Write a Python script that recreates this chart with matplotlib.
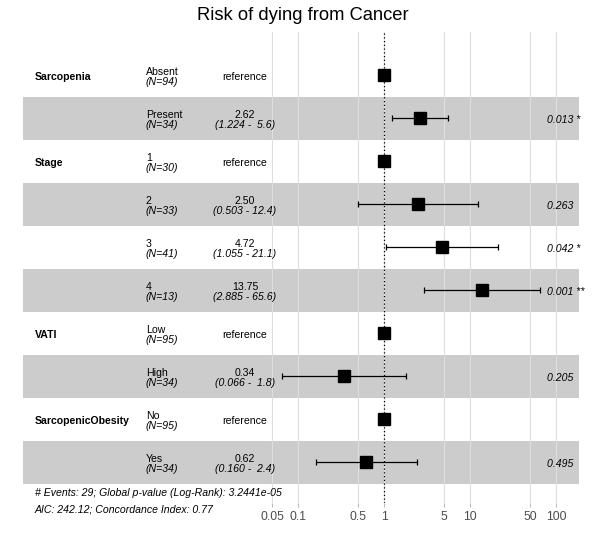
import numpy as np
import matplotlib
matplotlib.use("Agg")
import matplotlib.pyplot as plt
from matplotlib.transforms import blended_transform_factory

plt.rcParams['font.family'] = ['Liberation Sans', 'DejaVu Sans']

# forest plot data (Cox model, hazard ratios)
variables = ["Sarcopenia", "", "Stage", "", "", "", "VATI", "", "SarcopenicObesity", ""]
levels = ["Absent", "Present", "1", "2", "3", "4", "Low", "High", "No", "Yes"]
n_obs = [94, 34, 30, 33, 41, 13, 95, 34, 95, 34]
hr = [1, 2.62, 1, 2.50, 4.72, 13.75, 1, 0.34, 1, 0.62]
ci_low = [np.nan, 1.224, np.nan, 0.503, 1.055, 2.885, np.nan, 0.066, np.nan, 0.160]
ci_high = [np.nan, 5.6, np.nan, 12.4, 21.1, 65.6, np.nan, 1.8, np.nan, 2.4]
p_values = [np.nan, 0.013, np.nan, 0.263, 0.042, 0.001, np.nan, 0.205, np.nan, 0.495]
is_ref = [True, False, True, False, False, False, True, False, True, False]

x_ticks = [0.05, 0.1, 0.5, 1, 5, 10, 50, 100]
x_ticklabels = ["0.05", "0.1", "0.5", "1", "5", "10", "50", "100"]

title = "Risk of dying from Cancer"
footer1 = "# Events: 29; Global p-value (Log-Rank): 3.2441e-05"
footer2 = "AIC: 242.12; Concordance Index: 0.77"

W, H = 600, 550
fig = plt.figure(figsize=(W / 100, H / 100), dpi=100)
ax = fig.add_axes([0, (H - 503) / H, 1, (503 - 32) / H])

# x: log scale, 86 px per decade, 1 at px 384
ax.set_xscale('log')
ax.set_xlim(10 ** (-384 / 86), 10 ** ((W - 384) / 86))
# y: rows 1..10, 43 px apart, row 1 at px 75
ax.set_ylim(10 + (503 - 462) / 43, 1 - (75 - 32) / 43)

rows = np.arange(1, len(levels) + 1)
hr = np.array(hr)
lo = np.array(ci_low)
hi = np.array(ci_high)

ax.set_xticks(x_ticks)
ax.set_xticklabels(x_ticklabels)
ax.xaxis.set_minor_locator(matplotlib.ticker.NullLocator())
ax.set_yticks([])
ax.grid(axis='x', color='#DEDEDE', linewidth=0.8, zorder=0)
ax.tick_params(axis='x', length=3, width=0.8, color='#BBBBBB',
               labelsize=8.8, labelcolor='#4D4D4D', pad=3)
for s in ax.spines.values():
    s.set_visible(False)

# striped background
for r in rows:
    if r % 2 == 0:
        ax.axhspan(r - 0.5, r + 0.5, xmin=23 / W, xmax=579 / W,
                   color='black', alpha=0.2, lw=0, zorder=1)

ax.axvline(1, color='black', linestyle=(0, (1, 2)), linewidth=0.9, zorder=2)

m = ~np.isnan(lo)
ax.errorbar(hr[m], rows[m], xerr=[hr[m] - lo[m], hi[m] - hr[m]], fmt='none',
            ecolor='black', elinewidth=0.9, capsize=2.3, capthick=0.9, zorder=3)
ax.plot(hr, rows, 's', color='black', markersize=8.6, zorder=4)

tr = blended_transform_factory(fig.transFigure, ax.transData)
fs = 7.6
for i, r in enumerate(rows):
    if variables[i]:
        ax.text(35 / W, r + 0.04, variables[i], transform=tr, fontsize=fs,
                fontweight='bold', ha='left', va='center')
    ax.text(146 / W, r - 0.07, levels[i], transform=tr, fontsize=fs,
            ha='left', va='center')
    ax.text(146 / W, r + 0.17, "(N=%d)" % n_obs[i], transform=tr, fontsize=fs,
            style='italic', ha='left', va='center')
    if is_ref[i]:
        ax.text(245 / W, r + 0.04, "reference", transform=tr, fontsize=fs,
                ha='center', va='center')
    else:
        ax.text(245 / W, r - 0.07, "%.2f" % hr[i], transform=tr, fontsize=fs,
                ha='center', va='center')
        ax.text(245 / W, r + 0.17, "(%.3f - %4.1f)" % (lo[i], hi[i]),
                transform=tr, fontsize=fs, style='italic', ha='center', va='center')
        p = p_values[i]
        stars = "***" if p < 0.001 else "**" if p < 0.01 else "*" if p < 0.05 else ""
        ax.text(547 / W, r + 0.04, ("%.3f " % p) + stars, transform=tr,
                fontsize=fs, style='italic', ha='left', va='center')

fig.text(303 / W, 1 - 16 / H, title, fontsize=13.2, ha='center', va='center')
fig.text(35 / W, 1 - 493 / H, footer1, fontsize=fs, style='italic',
         ha='left', va='center')
fig.text(35 / W, 1 - 509 / H, footer2, fontsize=fs, style='italic',
         ha='left', va='center')

fig.savefig("out.png", dpi=100)
